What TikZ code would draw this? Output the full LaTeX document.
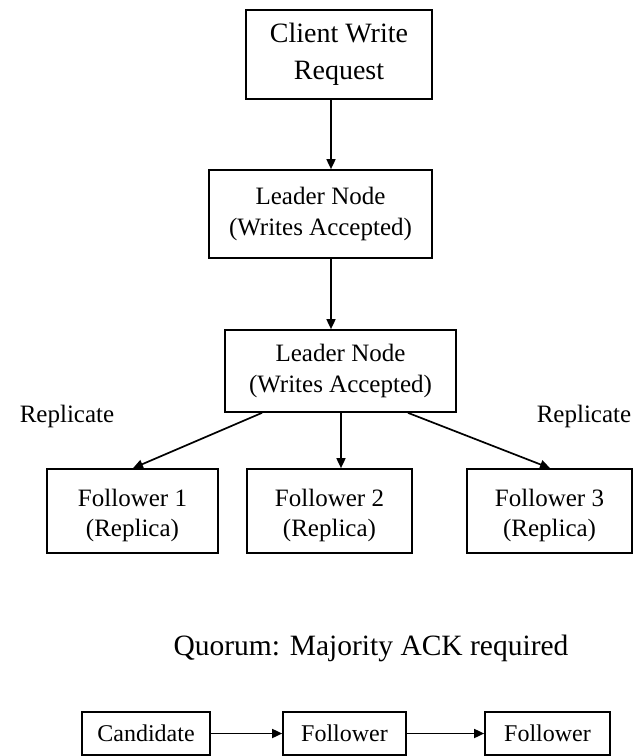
\documentclass[tikz,border=0pt]{standalone}
\usepackage{fontspec}
\setmainfont{Liberation Serif}
\usetikzlibrary{arrows.meta}
\begin{document}
\begin{tikzpicture}[x=1pt,y=-1pt,
  box/.style={draw=black,line width=1.7pt,fill=white,inner sep=0pt,align=center,font=\fontsize{25}{31}\selectfont},
  flow/.style={draw=black,line width=1.7pt,-{Triangle[length=10pt,width=9pt]}},
  lbl/.style={inner sep=0pt,font=\fontsize{25}{30}\selectfont},
  inner/.style={inner sep=0pt,align=center,font=\fontsize{25}{30}\selectfont,yshift=-4pt}]
\useasboundingbox[fill=white] (0,0) rectangle (635,756);

% main chain
\node[box,minimum width=186pt,minimum height=89pt,font=\fontsize{28}{37}\selectfont] (client) at (339,54.5) {Client Write\\Request};
\node[box,minimum width=223pt,minimum height=88pt] (lead1) at (320.5,214) {Leader Node\\(Writes Accepted)};
\node[box,minimum width=231pt,minimum height=82pt] (lead2) at (340.5,371) {Leader Node\\(Writes Accepted)};

% followers: text sits a little below the middle of each box
\node[box,minimum width=171pt,minimum height=84pt,label={[inner]center:{Follower 1\\ (Replica)}}] (f1) at (132.5,511) {};
\node[box,minimum width=165pt,minimum height=84pt,label={[inner]center:{Follower 2\\(Replica)}}] (f2) at (329.5,511) {};
\node[box,minimum width=165pt,minimum height=84pt,label={[inner]center:{Follower 3\\ (Replica)}}] (f3) at (549.5,511) {};

\node[lbl] (repl) at (67,416) {Replicate};
\node[lbl] (repr) at (584,416) {Replicate};

\node[lbl,font=\fontsize{29.5}{34}\selectfont] (quorum) at (371,648) {Quorum: Majority ACK required};

% election row
\node[box,minimum width=128pt,minimum height=43pt,font=\fontsize{24}{30}\selectfont] (cand) at (146,733.5) {Candidate};
\node[box,minimum width=123pt,minimum height=43pt,font=\fontsize{24}{30}\selectfont] (fa) at (344.5,733.5) {Follower};
\node[box,minimum width=125pt,minimum height=43pt,font=\fontsize{24}{30}\selectfont] (fb) at (547.5,733.5) {Follower};

% connectors
\coordinate (c1) at (331,0);
\draw[flow] (c1 |- client.south) -- (c1 |- lead1.north);
\draw[flow] (c1 |- lead1.south) -- (c1 |- lead2.north);
\coordinate (l2a) at (262,0);
\coordinate (l2b) at (341,0);
\coordinate (l2c) at (408,0);
\coordinate (t1) at (133,0);
\coordinate (t3) at (550,0);
\draw[flow] (l2a |- lead2.south) -- (t1 |- f1.north);
\draw[flow] (l2b |- lead2.south) -- (l2b |- f2.north);
\draw[flow] (l2c |- lead2.south) -- (t3 |- f3.north);
\draw[flow] (cand.east) -- (fa.west);
\draw[flow] (fa.east) -- (fb.west);
\end{tikzpicture}
\end{document}
